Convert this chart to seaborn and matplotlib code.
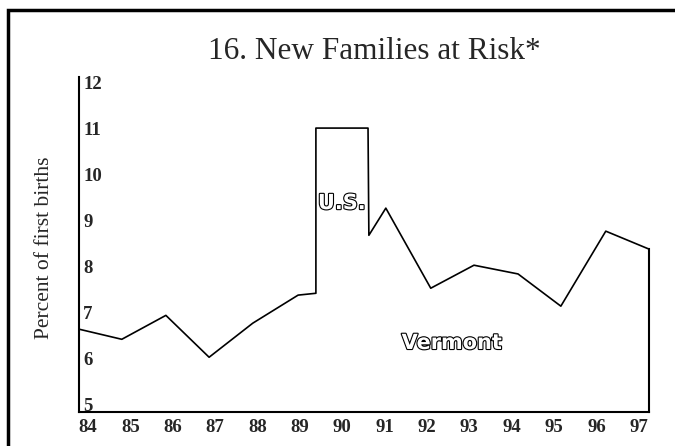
import matplotlib
matplotlib.use("Agg")
import matplotlib.pyplot as plt
import matplotlib.patheffects as pe
from matplotlib.patches import Rectangle
import seaborn as sns
import pandas as pd

# -------------------------------
# Data
# -------------------------------
vt_years = [83.79, 84.80, 85.84, 86.86, 87.89, 88.96, 89.38,
            90.63, 91.03, 92.09, 93.11, 94.15, 95.16, 96.22, 97.24]
vt_rates = [6.63, 6.41, 6.93, 6.02, 6.76, 7.37, 7.41,
            8.67, 9.26, 7.52, 8.02, 7.83, 7.13, 8.76, 8.37]

us_years = [89.38, 90.61]
us_rate = 11.0

tick_years = list(range(84, 98))
tick_labels = [str(y) for y in tick_years]
y_ticks = [5, 6, 7, 8, 9, 10, 11, 12]

title = "16. New Families at Risk*"
ylabel = "Percent of first births"

# -------------------------------
# Build the traced line (U.S. box sits inside the Vermont line)
# -------------------------------
split = vt_years.index(89.38) + 1
xs = vt_years[:split] + us_years + vt_years[split:]
ys = vt_rates[:split] + [us_rate, us_rate] + vt_rates[split:]
df = pd.DataFrame({"year": xs, "rate": ys})

# -------------------------------
# Plot
# -------------------------------
sns.set_style("white")
plt.rcParams["font.family"] = ["Liberation Serif", "DejaVu Serif"]

fig = plt.figure(figsize=(6.75, 4.46), dpi=100)
ax = fig.add_axes([79 / 675, 1 - 412 / 446, 570 / 675, 335 / 446])

sns.lineplot(data=df, x="year", y="rate", sort=False, estimator=None,
             color="black", linewidth=1.2, ax=ax)

ax.set_xlim(83.79, 97.24)
ax.set_ylim(4.83, 12.11)

ax.set_xticks(tick_years)
ax.set_xticklabels(tick_labels, fontsize=13.5, fontweight="bold")
ax.set_yticks(y_ticks)
ax.set_yticklabels([str(v) for v in y_ticks], fontsize=13.5, fontweight="bold")
for lbl in ax.get_yticklabels():
    lbl.set_horizontalalignment("left")
ax.tick_params(axis="y", length=0, pad=-3)
ax.tick_params(axis="x", length=0, pad=5)

ax.set_xlabel("")
ax.set_ylabel("")
ax.grid(False)

ax.spines["top"].set_visible(False)
for s in ["left", "bottom", "right"]:
    ax.spines[s].set_color("black")
    ax.spines[s].set_linewidth(1.5)
ax.spines["right"].set_bounds(4.83, vt_rates[-1])

outline = [pe.withStroke(linewidth=1.6, foreground="black")]
ax.text(89.99, 9.37, "U.S.", family="DejaVu Sans", fontweight="bold",
        fontsize=15, color="white", ha="center", va="center",
        path_effects=outline)
ax.text(92.59, 6.33, "Vermont", family="DejaVu Sans", fontweight="bold",
        fontsize=15, color="white", ha="center", va="center",
        path_effects=outline)

fig.text(208 / 675, 1 - 59 / 446, title, fontsize=22.5, ha="left",
         va="baseline")
fig.text(45 / 675, 1 - 248 / 446, ylabel, fontsize=15.5, rotation=90,
         ha="center", va="center")

# outer frame (runs off the right and bottom edges)
fig.add_artist(Rectangle((8 / 675, -0.05), 1.1, 0.05 + (1 - 10 / 446),
                         transform=fig.transFigure, fill=False,
                         edgecolor="black", linewidth=2.5))

fig.savefig("out.png", dpi=100)
